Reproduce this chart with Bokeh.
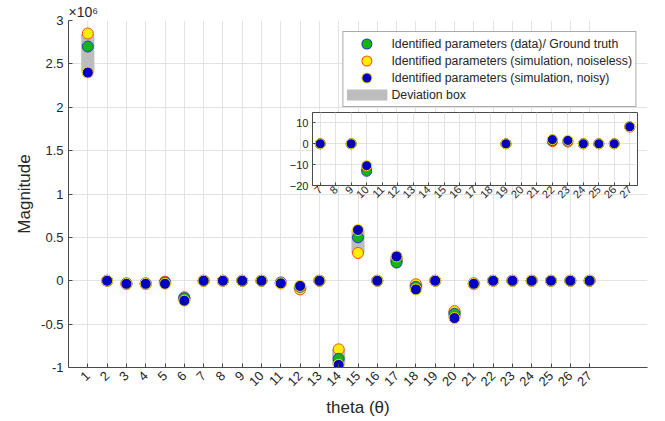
import numpy as np
from math import pi
from bokeh.plotting import figure
from bokeh.models import (Range1d, FixedTicker, Legend, LegendItem, ColumnDataSource)
from bokeh.layouts import column
from bokeh.embed import file_html
from bokeh.resources import INLINE

# ---------------- data ----------------
theta = list(range(1, 28))
# values in units of 1e6
ground_truth = [2.70, 0, -0.03, -0.03, -0.02, -0.20, 0, 0, 0, 0, -0.02, -0.07, 0, -0.90,
                0.50, 0, 0.21, -0.07, 0, -0.38, -0.03, 0, 0, 0, 0, 0, 0]
noiseless = [2.85, 0, -0.04, -0.04, -0.01, -0.19, 0, 0, 0, 0, -0.03, -0.10, 0, -0.79,
             0.32, 0, 0.24, -0.04, 0, -0.35, -0.04, 0, 0, 0, 0, 0, 0]
noisy = [2.40, 0, -0.035, -0.035, -0.035, -0.23, 0, 0, 0, 0, -0.03, -0.06, 0, -0.97,
         0.585, 0, 0.28, -0.10, 0, -0.43, -0.035, 0, 0, 0, 0, 0, 0]
y_ticks = [-1, -0.5, 0, 0.5, 1, 1.5, 2, 2.5, 3]
y_tick_labels = ["-1", "-0.5", "0", "0.5", "1", "1.5", "2", "2.5", "3"]

# inset (raw units)
inset_theta = [7, 9, 10, 19, 22, 23, 24, 25, 26, 27]
inset_ground_truth = [0, 0, -13.2, 0, 1.5, 1.3, 0, 0, 0, 8.2]
inset_noiseless = [0, 0, -12.0, 0, 1.0, 0.8, 0, 0, 0, 8.0]
inset_noisy = [0, 0, -10.5, 0, 2.0, 1.6, 0, 0, 0, 8.2]
inset_x_ticks = list(range(7, 28))
inset_y_ticks = [-20, -10, 0, 10]

legend_labels = ["Identified parameters (data)/ Ground truth",
                 "Identified parameters (simulation, noiseless)",
                 "Identified parameters (simulation, noisy)",
                 "Deviation box"]

FONT = "Liberation Sans"
GREEN, GREEN_EDGE = "#14b414", "#1f3fbf"
YELLOW, YELLOW_EDGE = "#ffee00", "#ff4a1a"
BLUE, BLUE_EDGE = "#0000c0", "#ffd800"
BOX = "#bdbdbd"
GRID = "#e3e3e3"
AXIS = "#4a4a4a"
TXT = "#262626"
NAN = float("nan")

# ---------------- main figure ----------------
p = figure(width=665, height=421, x_range=Range1d(0, 30), y_range=Range1d(-1, 3),
           output_backend="svg", toolbar_location=None,
           min_border_left=68, min_border_right=18, min_border_top=20, min_border_bottom=54)
p.outline_line_color = None
p.background_fill_color = "white"
p.title.text = "×10⁶"
p.title.text_font = FONT
p.title.text_font_size = "14px"
p.title.text_font_style = "normal"
p.title.text_color = TXT
p.title.align = "left"
p.title.standoff = 1
p.title.offset = 0

src = ColumnDataSource(dict(x=theta, g=ground_truth, y=noiseless, b=noisy,
                            top=np.max([ground_truth, noiseless, noisy], axis=0),
                            bottom=np.min([ground_truth, noiseless, noisy], axis=0)))

r_box = p.vbar(x="x", top="top", bottom="bottom", width=0.68, source=src,
               fill_color=BOX, line_color=None)
r_y = p.scatter("x", "y", source=src, size=11, fill_color=YELLOW, line_color=YELLOW_EDGE, line_width=1)
r_g = p.scatter("x", "g", source=src, size=11, fill_color=GREEN, line_color=GREEN_EDGE, line_width=1)
r_b = p.scatter("x", "b", source=src, size=11, fill_color=BLUE, line_color=BLUE_EDGE, line_width=1)

# legend swatches (proxies with no visible data): round-capped dots and a grey bar
def dot(color, w):
    return p.line(x=[NAN], y=[NAN], line_color=color, line_width=w, line_cap="round",
                  line_dash="0 100", line_dash_offset=80)

leg_g = [dot(GREEN_EDGE, 11), dot(GREEN, 9)]
leg_y = [dot(YELLOW_EDGE, 11), dot(YELLOW, 9)]
leg_b = [dot(BLUE_EDGE, 11), dot(BLUE, 9)]
leg_box = [p.line(x=[NAN], y=[NAN], line_color=BOX, line_width=11, line_cap="butt")]

for ax in (p.xaxis[0], p.yaxis[0]):
    ax.axis_line_color = AXIS
    ax.major_tick_line_color = AXIS
    ax.major_tick_in = 4
    ax.major_tick_out = 0
    ax.minor_tick_line_color = None
    ax.major_label_text_font = FONT
    ax.major_label_text_font_size = "13px"
    ax.major_label_text_color = TXT
    ax.axis_label_text_font = FONT
    ax.axis_label_text_font_size = "17px"
    ax.axis_label_text_font_style = "normal"
    ax.axis_label_text_color = TXT

p.xaxis.ticker = FixedTicker(ticks=theta)
p.xaxis.major_label_orientation = pi / 4
p.xaxis.major_label_standoff = 6
p.xaxis.axis_label = "theta (θ)"
p.xaxis.axis_label_standoff = 5

p.yaxis.ticker = FixedTicker(ticks=y_ticks)
p.yaxis.major_label_overrides = {t: s for t, s in zip(y_ticks, y_tick_labels)}
p.yaxis.major_label_standoff = 5
p.yaxis.axis_label = "Magnitude"
p.yaxis.axis_label_standoff = 4

p.xgrid.ticker = FixedTicker(ticks=theta)
p.ygrid.ticker = FixedTicker(ticks=y_ticks)
for g in (p.xgrid[0], p.ygrid[0]):
    g.grid_line_color = GRID
    g.grid_line_width = 1

legend = Legend(items=[LegendItem(label=legend_labels[0], renderers=leg_g),
                       LegendItem(label=legend_labels[1], renderers=leg_y),
                       LegendItem(label=legend_labels[2], renderers=leg_b),
                       LegendItem(label=legend_labels[3], renderers=leg_box)],
                location="top_right", margin=11, padding=3, spacing=0,
                glyph_height=17, glyph_width=41, label_height=17, label_standoff=4,
                label_text_font=FONT, label_text_font_size="12.3px", label_text_color=TXT,
                border_line_color="#555555", border_line_width=1, background_fill_alpha=1)
p.add_layout(legend)

# ---------------- inset ----------------
# (the column aligns plot frames, so the inset inherits the main plot's side borders: 68 / 18)
isrc = ColumnDataSource(dict(x=inset_theta, g=inset_ground_truth, y=inset_noiseless, b=inset_noisy,
                             top=np.max([inset_ground_truth, inset_noiseless, inset_noisy], axis=0),
                             bottom=np.min([inset_ground_truth, inset_noiseless, inset_noisy], axis=0)))
q = figure(width=411, height=97, x_range=Range1d(6.5, 27.5), y_range=Range1d(-20, 15),
           output_backend="svg", toolbar_location=None,
           min_border_left=68, min_border_right=18, min_border_top=2, min_border_bottom=22)
q.border_fill_alpha = 0
q.background_fill_color = "white"
q.outline_line_color = AXIS
q.vbar(x="x", top="top", bottom="bottom", width=0.68, source=isrc, fill_color=BOX, line_color=None)
q.scatter("x", "y", source=isrc, size=10, fill_color=YELLOW, line_color=YELLOW_EDGE, line_width=1)
q.scatter("x", "g", source=isrc, size=10, fill_color=GREEN, line_color=GREEN_EDGE, line_width=1)
q.scatter("x", "b", source=isrc, size=10, fill_color=BLUE, line_color=BLUE_EDGE, line_width=1)
for ax in (q.xaxis[0], q.yaxis[0]):
    ax.axis_line_color = AXIS
    ax.major_tick_line_color = AXIS
    ax.major_tick_in = 3
    ax.major_tick_out = 0
    ax.minor_tick_line_color = None
    ax.major_label_text_font = FONT
    ax.major_label_text_font_size = "11px"
    ax.major_label_text_color = TXT
q.xaxis.ticker = FixedTicker(ticks=inset_x_ticks)
q.xaxis.major_label_orientation = pi / 4
q.xaxis.major_label_standoff = 2
q.yaxis.ticker = FixedTicker(ticks=inset_y_ticks)
q.yaxis.major_label_standoff = 4
q.xgrid.ticker = FixedTicker(ticks=inset_x_ticks)
q.ygrid.ticker = FixedTicker(ticks=inset_y_ticks)
for g in (q.xgrid[0], q.ygrid[0]):
    g.grid_line_color = GRID

q.styles = {"position": "absolute", "left": "244px", "top": "110px"}

layout = column(p, q)
layout.styles = {"position": "relative"}
open("out.html", "w").write(file_html(layout, INLINE))
